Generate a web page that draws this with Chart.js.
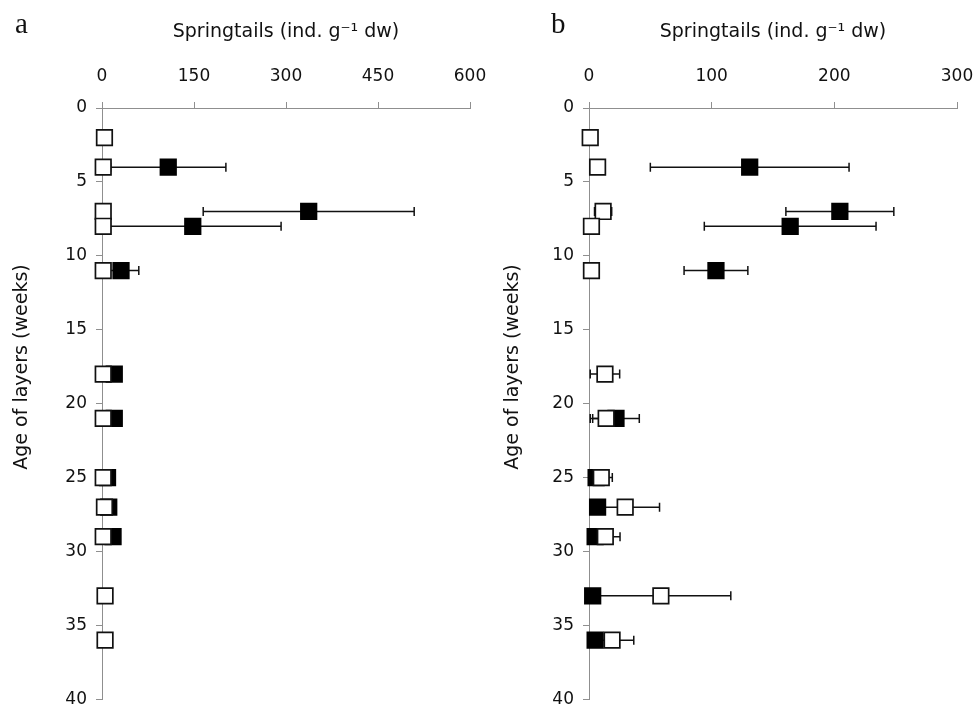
<!DOCTYPE html>
<html>
<head>
<meta charset="utf-8">
<script src="https://cdn.jsdelivr.net/npm/chart.js@4.4.1/dist/chart.umd.min.js"></script>
<style>
  body { margin: 0; background: #fff; overflow: hidden; }
  canvas { position: absolute; top: 0; }
  #chartA { left: 0; }
  #chartB { left: 487px; }
</style>
</head>
<body>
<canvas id="chartA" width="487" height="712"></canvas>
<canvas id="chartB" width="486" height="712"></canvas>
<script>
// Alter der Schichten (Wochen)
const weeks = [2, 4, 7, 8, 11, 18, 21, 25, 27, 29, 33, 36];
const yTicks = [0, 5, 10, 15, 20, 25, 30, 35, 40];

// Panel a
const xTicksA = [0, 150, 300, 450, 600];
const openA = [4, 2, 2, 2, 2, 2, 2, 2, 4, 2, 5, 5];
const openErrA = [null, null, null, null, null, null, null, null, null, null, null, null];
const filledA = [null, 108, 337, 148, 31, 20, 20, 9, 11, 18, null, null];
const filledErrA = [null, 94, 172, 144, 29, null, null, null, null, null, null, null];

// Panel b
const xTicksB = [0, 100, 200, 300];
const openB = [1, 7, 11.5, 2, 2, 13, 14, 10, 29.5, 13.3, 58.6, 18.8];
const openErrB = [null, null, 7, null, null, 12, 13, 9, 28, 12, 57, 17.7];
const filledB = [null, 131, 204.5, 164, 103.5, null, 22, 5.8, 7, 5, 3, 5];
const filledErrB = [null, 81, 44, 70, 26, null, 19, null, null, null, null, null];

function toPoints(vals, errs) {
    return weeks.map((w, i) => ({x: vals[i], y: w, err: errs[i]}))
        .filter(p => p.x !== null);
}

// horizontale Fehlerbalken
const errorBars = {
    id: 'errorBars',
    beforeDatasetsDraw(chart) {
        const ctx = chart.ctx;
        const xs = chart.scales.x;
        ctx.save();
        ctx.strokeStyle = '#111';
        ctx.lineWidth = 1.5;
        chart.data.datasets.forEach((ds, di) => {
            const meta = chart.getDatasetMeta(di);
            meta.data.forEach((pt, i) => {
                const p = ds.data[i];
                if (p.err === null || p.err === undefined) return;
                const x1 = xs.getPixelForValue(p.x - p.err);
                const x2 = xs.getPixelForValue(p.x + p.err);
                ctx.beginPath();
                ctx.moveTo(x1, pt.y);
                ctx.lineTo(x2, pt.y);
                ctx.moveTo(x1, pt.y - 4.5);
                ctx.lineTo(x1, pt.y + 4.5);
                ctx.moveTo(x2, pt.y - 4.5);
                ctx.lineTo(x2, pt.y + 4.5);
                ctx.stroke();
            });
        });
        ctx.restore();
    }
};

// Buchstabe a/b und y-Achsentitel (leicht nach oben versetzt wie im Original)
const extraText = {
    id: 'extraText',
    afterDraw(chart, args, opts) {
        const ctx = chart.ctx;
        ctx.save();
        ctx.fillStyle = '#111';
        ctx.font = '29px "Liberation Serif", "DejaVu Serif", serif';
        ctx.textBaseline = 'alphabetic';
        ctx.fillText(opts.label, opts.labelX, 33);

        ctx.translate(opts.titleX, 367);
        ctx.rotate(-Math.PI / 2);
        ctx.font = '19px "DejaVu Sans"';
        ctx.textAlign = 'center';
        ctx.textBaseline = 'middle';
        ctx.fillText('Age of layers (weeks)', 0, 0);
        ctx.restore();
    }
};

function makeChart(id, label, labelX, titleX, xTicks, openPts, filledPts, padRight) {
    const axisGray = '#8f8f8f';
    return new Chart(document.getElementById(id), {
        type: 'scatter',
        data: {
            datasets: [
                {
                    label: 'open',
                    data: openPts,
                    pointStyle: 'rect',
                    pointRadius: 11,
                    pointHoverRadius: 11,
                    backgroundColor: '#fff',
                    borderColor: '#111',
                    borderWidth: 1.7,
                    clip: false
                },
                {
                    label: 'filled',
                    data: filledPts,
                    pointStyle: 'rect',
                    pointRadius: 11,
                    pointHoverRadius: 11,
                    backgroundColor: '#000',
                    borderColor: '#000',
                    borderWidth: 1.7,
                    clip: false
                }
            ]
        },
        options: {
            responsive: false,
            animation: false,
            events: [],
            layout: { padding: { left: 0, right: padRight, top: 0, bottom: 0 } },
            plugins: {
                legend: { display: false },
                tooltip: { enabled: false },
                extraText: { label: label, labelX: labelX, titleX: titleX }
            },
            scales: {
                x: {
                    type: 'linear',
                    position: 'top',
                    min: xTicks[0],
                    max: xTicks[xTicks.length - 1],
                    afterBuildTicks: s => { s.ticks = xTicks.map(v => ({value: v})); },
                    afterFit: s => {
                        s.height = 108;
                        s.paddingLeft = 0;
                        s.paddingRight = 0;
                    },
                    grid: { drawOnChartArea: false, tickLength: 6, color: axisGray },
                    border: { color: axisGray },
                    ticks: { padding: 15, color: '#111', font: { family: 'DejaVu Sans', size: 17 } },
                    title: {
                        display: true,
                        text: 'Springtails (ind. g⁻¹ dw)',
                        color: '#111',
                        font: { family: 'DejaVu Sans', size: 19 },
                        padding: { top: 21, bottom: 0 }
                    }
                },
                y: {
                    type: 'linear',
                    reverse: true,
                    min: 0,
                    max: 40,
                    afterBuildTicks: s => { s.ticks = yTicks.map(v => ({value: v})); },
                    afterFit: s => {
                        s.width = 102;
                        s.paddingTop = 0;
                        s.paddingBottom = 0;
                    },
                    grid: { drawOnChartArea: false, tickLength: 6, color: axisGray },
                    border: { color: axisGray },
                    ticks: { padding: 9, color: '#111', font: { family: 'DejaVu Sans', size: 17 } }
                }
            }
        },
        plugins: [errorBars, extraText]
    });
}

makeChart('chartA', 'a', 15, 22, xTicksA, toPoints(openA, openErrA), toPoints(filledA, filledErrA), 17);
makeChart('chartB', 'b', 64, 26, xTicksB, toPoints(openB, openErrB), toPoints(filledB, filledErrB), 16);
</script>
</body>
</html>
